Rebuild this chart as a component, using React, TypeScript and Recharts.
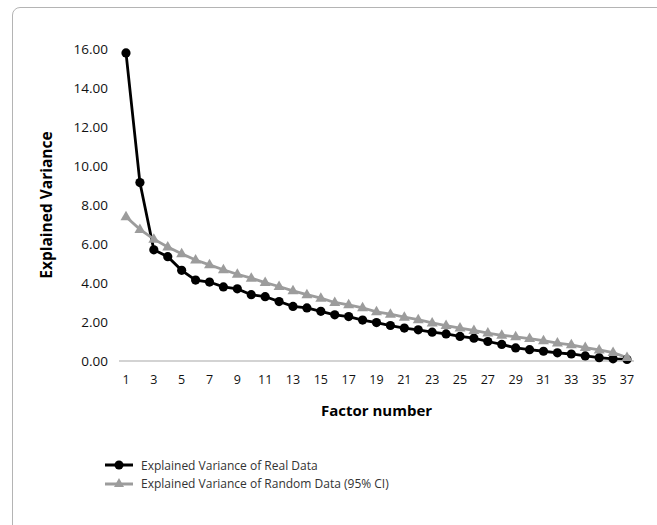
import React from 'react';
import { LineChart, Line, XAxis, YAxis } from 'recharts';

const factors = [
  '1', '2', '3', '4', '5', '6', '7', '8', '9', '10', '11', '12', '13', '14', '15', '16', '17', '18', '19',
  '20', '21', '22', '23', '24', '25', '26', '27', '28', '29', '30', '31', '32', '33', '34', '35', '36', '37',
];

const realData = [
  15.8, 9.15, 5.7, 5.35, 4.65, 4.15, 4.05, 3.8, 3.7, 3.4,
  3.3, 3.05, 2.8, 2.72, 2.55, 2.37, 2.28, 2.1, 1.97, 1.82,
  1.69, 1.6, 1.48, 1.39, 1.26, 1.17, 1.0, 0.85, 0.67, 0.58,
  0.5, 0.42, 0.36, 0.26, 0.17, 0.11, 0.08,
];

const randomData = [
  7.4, 6.75, 6.25, 5.85, 5.5, 5.18, 4.93, 4.68, 4.45, 4.25,
  4.02, 3.82, 3.6, 3.4, 3.22, 3.0, 2.88, 2.73, 2.52, 2.4,
  2.25, 2.12, 1.95, 1.82, 1.69, 1.57, 1.43, 1.32, 1.24, 1.15,
  1.04, 0.92, 0.83, 0.69, 0.57, 0.43, 0.18,
];

const yTicks = [0, 2, 4, 6, 8, 10, 12, 14, 16];

const realName = 'Explained Variance of Real Data';
const randomName = 'Explained Variance of Random Data (95% CI)';

const data = factors.map((f, i) => ({ factor: f, real: realData[i], random: randomData[i] }));

const FONT = '"Open Sans", sans-serif';
const GRAY = '#9c9c9c';

const Triangle = (props: any) => {
  const { cx, cy, index } = props;
  if (cx == null || cy == null) return null;
  return (
    <polygon
      key={`tri-${index}`}
      points={`${cx},${cy - 6} ${cx - 5.5},${cy + 3.5} ${cx + 5.5},${cy + 3.5}`}
      fill={GRAY}
    />
  );
};

const App = () => {
  return (
    <div style={{ position: 'absolute', left: 0, top: 0, width: 657, height: 525, overflow: 'hidden', background: '#fff' }}>
      <div style={{ position: 'absolute', left: 0, top: 0 }}>
        <LineChart width={657} height={525} data={data} margin={{ top: 49, right: 23, bottom: 104, left: 49 }}>
          <XAxis
            dataKey="factor"
            interval={1}
            height={60}
            padding={{ left: 7, right: 7 }}
            axisLine={{ stroke: '#c4c4c4', strokeWidth: 1.5 }}
            tickLine={false}
            tickMargin={8}
            tick={{ fill: '#111', fontSize: 12.5, fontFamily: FONT }}
            label={{
              value: 'Factor number', position: 'insideBottom', offset: 5,
              style: { fill: '#000', fontSize: 15, fontWeight: 700, fontFamily: FONT },
            }}
          />
          <YAxis
            domain={[0, 16]}
            ticks={yTicks}
            width={70}
            axisLine={false}
            tickLine={false}
            tickMargin={5}
            tickFormatter={(v: number) => v.toFixed(2)}
            tick={{ fill: '#111', fontSize: 13.5, fontFamily: FONT }}
            label={{
              value: 'Explained Variance', angle: -90, position: 'center', dx: -38,
              style: { fill: '#000', fontSize: 15.5, fontWeight: 700, fontFamily: FONT, textAnchor: 'middle' },
            }}
          />
          <Line
            type="linear"
            dataKey="real"
            name={realName}
            stroke="#000"
            strokeWidth={2.8}
            dot={{ r: 4.6, fill: '#000', stroke: '#000', strokeWidth: 0 }}
            isAnimationActive={false}
          />
          <Line
            type="linear"
            dataKey="random"
            name={randomName}
            stroke={GRAY}
            strokeWidth={2.8}
            dot={<Triangle />}
            isAnimationActive={false}
          />
        </LineChart>
      </div>
      <div
        style={{
          position: 'absolute', left: 12, top: 7, width: 660, height: 540, zIndex: 2,
          border: '1px solid #b4b4b4', borderRadius: 8, boxSizing: 'border-box', pointerEvents: 'none',
        }}
      />
      <div style={{ position: 'absolute', left: 105, top: 456, fontFamily: FONT, fontSize: 12, color: '#333' }}>
        <div style={{ display: 'flex', alignItems: 'center', height: 18 }}>
          <svg width={30} height={12} style={{ marginRight: 6 }}>
            <line x1={0} y1={6} x2={28} y2={6} stroke="#000" strokeWidth={3} />
            <circle cx={14} cy={6} r={4.5} fill="#000" />
          </svg>
          <span>{realName}</span>
        </div>
        <div style={{ display: 'flex', alignItems: 'center', height: 18 }}>
          <svg width={30} height={12} style={{ marginRight: 6 }}>
            <line x1={0} y1={7} x2={28} y2={7} stroke={GRAY} strokeWidth={3} />
            <polygon points="14,1 9,10 19,10" fill={GRAY} />
          </svg>
          <span>{randomName}</span>
        </div>
      </div>
    </div>
  );
};

export default App;
